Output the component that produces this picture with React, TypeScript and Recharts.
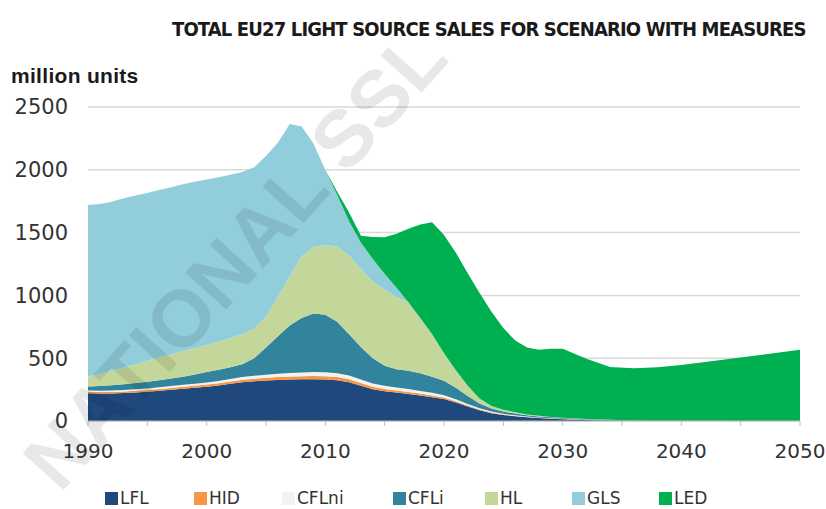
import React from 'react';
import { AreaChart, Area, XAxis, YAxis, CartesianGrid } from 'recharts';

// ---- data (million units) ----
const YEARS = [
  1990, 1991, 1992, 1993, 1994, 1995, 1996, 1997, 1998, 1999,
  2000, 2001, 2002, 2003, 2004, 2005, 2006, 2007, 2008, 2009,
  2010, 2011, 2012, 2013, 2014, 2015, 2016, 2017, 2018, 2019,
  2020, 2021, 2022, 2023, 2024, 2025, 2026, 2027, 2028, 2029,
  2030, 2032, 2034, 2036, 2038, 2040, 2045, 2050,
];

const LFL = [
  220, 218, 218, 222, 227, 232, 240, 248, 256, 264,
  273, 283, 296, 308, 316, 322, 327, 330, 332, 333,
  331, 325, 308, 280, 252, 236, 226, 215, 203, 190,
  175, 148, 115, 85, 62, 47, 37, 29, 23, 18,
  14, 8, 4, 2, 1, 0, 0, 0,
];

const HID = [
  12, 12, 13, 13, 14, 14, 15, 15, 16, 16,
  17, 18, 19, 20, 21, 22, 23, 24, 25, 26,
  26, 25, 24, 22, 20, 18, 17, 16, 15, 14,
  12, 10, 8, 6, 5, 4, 3, 2, 2, 1,
  1, 0, 0, 0, 0, 0, 0, 0,
];

const CFLNI = [
  10, 10, 11, 12, 12, 13, 14, 15, 16, 16,
  17, 18, 20, 22, 24, 25, 27, 29, 30, 31,
  32, 31, 30, 29, 27, 26, 24, 23, 21, 20,
  18, 15, 12, 10, 8, 6, 5, 4, 3, 2,
  2, 1, 0, 0, 0, 0, 0, 0,
];

const CFLI = [
  33, 38, 43, 46, 49, 53, 56, 60, 64, 74,
  83, 89, 93, 102, 139, 216, 298, 377, 433, 465,
  456, 409, 328, 259, 201, 160, 145, 146, 141, 128,
  115, 92, 65, 39, 25, 18, 15, 11, 8, 8,
  6, 5, 4, 2, 1, 1, 0, 0,
];

const HL = [
  80, 97, 115, 132, 148, 168, 180, 192, 203, 210,
  215, 222, 232, 238, 235, 245, 315, 390, 490, 530,
  557, 598, 630, 620, 610, 605, 573, 545, 440, 338,
  220, 140, 80, 40, 20, 15, 10, 6, 5, 3,
  3, 2, 1, 0, 0, 0, 0, 0,
];

const GLS = [
  1365, 1353, 1345, 1348, 1345, 1335, 1335, 1332, 1330, 1325,
  1317, 1310, 1300, 1292, 1285, 1280, 1225, 1215, 1035, 825,
  596, 412, 270, 210, 180, 125, 75, 0, 0, 0,
  0, 0, 0, 0, 0, 0, 0, 0, 0, 0,
  0, 0, 0, 0, 0, 0, 0, 0,
];

const LED = [
  0, 0, 0, 0, 0, 0, 0, 0, 0, 0,
  0, 0, 0, 0, 0, 0, 0, 0, 0, 0,
  0, 25, 70, 55, 175, 292, 430, 585, 745, 892,
  940, 935, 896, 840, 750, 650, 570, 533, 527, 543,
  549, 479, 421, 416, 426, 445, 505, 568,
];

const Y_TICKS = [0, 500, 1000, 1500, 2000, 2500];
const X_TICKS = [1990, 1995, 2000, 2005, 2010, 2015, 2020, 2025, 2030, 2035, 2040, 2045, 2050];

const TITLE = 'TOTAL EU27 LIGHT SOURCE SALES FOR SCENARIO WITH MEASURES';
const UNIT_LABEL = 'million units';
const WATERMARK = 'NATIONAL SSL';

const SERIES = [
  { key: 'LFL', values: LFL, color: '#1f497d' },
  { key: 'HID', values: HID, color: '#f79646' },
  { key: 'CFLni', values: CFLNI, color: '#f2f2f2' },
  { key: 'CFLi', values: CFLI, color: '#31849b' },
  { key: 'HL', values: HL, color: '#c4d79b' },
  { key: 'GLS', values: GLS, color: '#92cddc' },
  { key: 'LED', values: LED, color: '#00b050' },
];

const data = YEARS.map((year, i) => {
  const row: Record<string, number> = { year };
  SERIES.forEach((s) => {
    row[s.key] = s.values[i];
  });
  return row;
});

const TICK_FONT = "'DejaVu Sans', sans-serif";
const LEGEND_LEFT = [105, 194, 282, 393, 485, 572, 659];

export default function App() {
  return (
    <div style={{ position: 'absolute', left: 0, top: 0, width: 826, height: 509, background: '#ffffff', overflow: 'hidden' }}>
      <AreaChart
        width={826}
        height={509}
        data={data}
        margin={{ top: 107, right: 26, bottom: 58, left: 28 }}
      >
        <CartesianGrid vertical={false} stroke="#d9d9d9" strokeWidth={1.5} />
        <XAxis
          dataKey="year"
          type="number"
          domain={[1990, 2050]}
          ticks={X_TICKS}
          tickFormatter={(v: number) => (v % 10 === 0 ? String(v) : '')}
          height={30}
          stroke="#bfbfbf"
          tickSize={5}
          tickMargin={18}
          tick={{ fill: '#333333', fontSize: 20, fontFamily: TICK_FONT }}
          interval={0}
        />
        <YAxis
          type="number"
          domain={[0, 2500]}
          ticks={Y_TICKS}
          width={60}
          axisLine={false}
          tickLine={false}
          tickSize={0}
          tickMargin={20}
          tick={{ fill: '#333333', fontSize: 21, fontFamily: TICK_FONT }}
        />
        {SERIES.map((s) => (
          <Area
            key={s.key}
            dataKey={s.key}
            stackId="a"
            type="linear"
            stroke="none"
            fill={s.color}
            fillOpacity={1}
            isAnimationActive={false}
          />
        ))}
      </AreaChart>

      {/* legend */}
      {SERIES.map((s, i) => (
        <div
          key={s.key}
          style={{
            position: 'absolute',
            left: LEGEND_LEFT[i],
            top: 488,
            display: 'flex',
            alignItems: 'center',
            fontFamily: TICK_FONT,
            fontSize: 17,
            color: '#333333',
            lineHeight: '20px',
          }}
        >
          <span style={{ display: 'inline-block', width: 13, height: 13, background: s.color, marginRight: 2 }} />
          <span>{s.key}</span>
        </div>
      ))}

      {/* title, unit label and watermark */}
      <svg width={826} height={509} style={{ position: 'absolute', left: 0, top: 0, pointerEvents: 'none' }}>
        <text
          x={60}
          y={494}
          transform="rotate(-48 60 494)"
          style={{ fontFamily: "'Liberation Sans', sans-serif", fontWeight: 700, fontSize: 80, fill: '#000000', fillOpacity: 0.09 }}
        >
          {WATERMARK}
        </text>
        <text
          x={172}
          y={36}
          style={{ fontFamily: "'DejaVu Sans Condensed', 'Liberation Sans Narrow', sans-serif", fontWeight: 700, fontSize: 20, letterSpacing: -0.85, fill: '#1a1a1a' }}
        >
          {TITLE}
        </text>
        <text
          x={11}
          y={83}
          style={{ fontFamily: "'Liberation Sans', sans-serif", fontWeight: 700, fontSize: 21, letterSpacing: 0.3, fill: '#1a1a1a' }}
        >
          {UNIT_LABEL}
        </text>
      </svg>
    </div>
  );
}
